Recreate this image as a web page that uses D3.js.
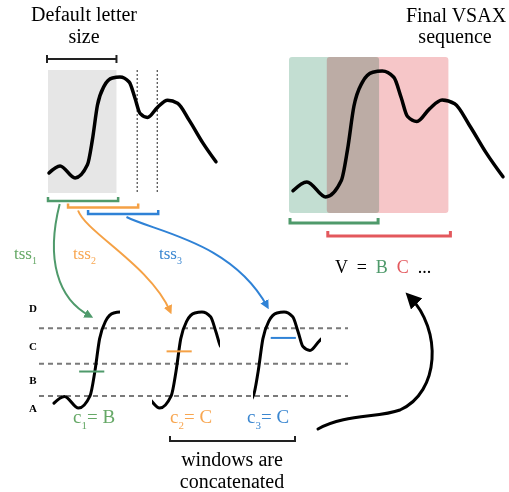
<!DOCTYPE html>
<html>
<head>
<meta charset="utf-8">
<script src="https://cdn.jsdelivr.net/npm/d3@7"></script>
<style>
  body { margin: 0; background: #fff; }
  text { font-family: "Liberation Serif", "DejaVu Serif", serif; }
</style>
</head>
<body>
<div id="fig"></div>
<script>
// time series (t = position, v = level)
var seriesT = [0, 6.6, 15.6, 23, 26, 29, 33, 38, 42.5, 48, 51.5, 54.5, 59, 65, 71, 77, 84, 92, 100];
var seriesV = [5, 12, 0, 13, 38, 72, 91, 99, 100, 95, 79, 64, 60, 70, 77, 74, 57, 35, 16];

// sliding windows
var windowStarts = [0, 12, 24];
var windowSize = 42;
var windowMeans = [38, 59, 73];
var windowLetters = ["B", "C", "C"];
var windowColors = ["#4f9a6b", "#f5a145", "#2f82d6"];
var textColors = ["#65a866", "#f8a650", "#3a86d0"];

// breakpoints between letters
var breakpoints = [12.5, 46, 83];
var levelLetters = ["A", "B", "C", "D"];

// final VSAX segments
var vsaxStarts = [0, 18];
var vsaxEnds = [41, 74];
var vsaxLetters = ["B", "C"];
var vsaxFill = ["#c3ded2", "#f6c6c8"];
var vsaxLine = ["#4f9a6b", "#e3585d"];

var W = 509, H = 492;
var svg = d3.select("#fig").append("svg")
    .attr("width", W)
    .attr("height", H);

var defs = svg.append("defs");
function marker(id, color, size) {
  defs.append("marker")
    .attr("id", id)
    .attr("viewBox", "0 0 10 10")
    .attr("refX", 6).attr("refY", 5)
    .attr("markerWidth", size).attr("markerHeight", size)
    .attr("markerUnits", "userSpaceOnUse")
    .attr("orient", "auto")
    .append("path")
    .attr("d", "M0,0 L10,5 L0,10 Z")
    .attr("fill", color);
}
windowColors.forEach(function(c, i) { marker("arr" + i, c, 9); });
marker("arrBlack", "#000", 16);

var pts = seriesT.map(function(t, i) { return {t: t, v: seriesV[i]}; });
var curve = d3.curveMonotoneX;

// ---------- left top panel ----------
var xL = d3.scaleLinear().domain([0, 100]).range([49, 216]);
var yL = d3.scaleLinear().domain([0, 100]).range([178, 77]);

svg.append("rect")
  .attr("x", xL(0) - 1)
  .attr("y", 70)
  .attr("width", xL(windowSize - 1) - xL(0))
  .attr("height", 123)
  .attr("fill", "#e6e6e6");

// dotted ends of the later windows
windowStarts.slice(1).forEach(function(s) {
  svg.append("line")
    .attr("x1", xL(s + windowSize) - 2).attr("x2", xL(s + windowSize) - 2)
    .attr("y1", 70).attr("y2", 193)
    .attr("stroke", "#222")
    .attr("stroke-width", 1)
    .attr("stroke-dasharray", "2,2");
});

var lineL = d3.line()
  .x(function(d) { return xL(d.t); })
  .y(function(d) { return yL(d.v); })
  .curve(curve);

svg.append("path")
  .attr("d", lineL(pts))
  .attr("fill", "none")
  .attr("stroke", "#000")
  .attr("stroke-width", 3.5)
  .attr("stroke-linecap", "round");

// "default letter size" bracket
var bx1 = xL(0) - 2, bx2 = xL(windowSize - 1) - 1;
svg.append("path")
  .attr("d", "M" + bx1 + ",59H" + bx2 + "M" + bx1 + ",55V63M" + bx2 + ",55V63")
  .attr("fill", "none").attr("stroke", "#222").attr("stroke-width", 2);

svg.append("text").attr("x", 84).attr("y", 21).attr("text-anchor", "middle")
  .attr("font-size", 20).text("Default letter");
svg.append("text").attr("x", 84).attr("y", 43).attr("text-anchor", "middle")
  .attr("font-size", 20).text("size");

// window brackets
function bracket(x1, x2, y, h, color, w) {
  svg.append("path")
    .attr("d", "M" + x1 + "," + (y - h) + "V" + y + "H" + x2 + "V" + (y - h))
    .attr("fill", "none")
    .attr("stroke", color)
    .attr("stroke-width", w);
}
windowStarts.forEach(function(s, i) {
  bracket(xL(s) - 1, xL(s + windowSize) - 1, 201 + i * 6.5, 4, windowColors[i], 2.5);
});

// ---------- lower windows ----------
var yW = d3.scaleLinear().domain([0, 100]).range([408, 312]);
var winX0 = [54, 154, 255];
var winW = 66;

breakpoints.forEach(function(b) {
  svg.append("line")
    .attr("x1", 39).attr("x2", 348)
    .attr("y1", yW(b)).attr("y2", yW(b))
    .attr("stroke", "#7a7a7a")
    .attr("stroke-width", 2)
    .attr("stroke-dasharray", "5,4");
});

var levelPos = [breakpoints[0] - 13]
  .concat(d3.range(breakpoints.length - 1).map(function(i) { return (breakpoints[i] + breakpoints[i + 1]) / 2; }))
  .concat([breakpoints[breakpoints.length - 1] + 21]);
levelLetters.forEach(function(l, i) {
  svg.append("text")
    .attr("x", 33).attr("y", yW(levelPos[i]))
    .attr("dy", "0.35em")
    .attr("text-anchor", "middle")
    .attr("font-size", 11)
    .attr("font-weight", "bold")
    .text(l);
});

var meanOffset = [16, 8, 10];
var labelOffset = [19, 16, -8];
var tipOffset = [36, 16, 12];
var startOffset = [7, 6, 23];

windowStarts.forEach(function(s, i) {
  var xw = d3.scaleLinear().domain([s, s + windowSize]).range([winX0[i], winX0[i] + winW]);
  defs.append("clipPath").attr("id", "clip" + i)
    .append("rect")
    .attr("x", winX0[i] - 2).attr("y", 280)
    .attr("width", winW + 2).attr("height", 150);
  var lw = d3.line()
    .x(function(d) { return xw(d.t); })
    .y(function(d) { return yW(d.v); })
    .curve(curve);
  svg.append("path")
    .attr("d", lw(pts))
    .attr("clip-path", "url(#clip" + i + ")")
    .attr("fill", "none")
    .attr("stroke", "#000")
    .attr("stroke-width", 3)
    .attr("stroke-linecap", "round");

  // mean level of the window
  svg.append("line")
    .attr("x1", xw(s + meanOffset[i])).attr("x2", xw(s + meanOffset[i] + 16))
    .attr("y1", yW(windowMeans[i])).attr("y2", yW(windowMeans[i]))
    .attr("stroke", windowColors[i])
    .attr("stroke-width", 2);

  // c_i = letter
  var t = svg.append("text")
    .attr("x", winX0[i] + labelOffset[i]).attr("y", 423)
    .attr("font-size", 19)
    .attr("fill", textColors[i]);
  t.append("tspan").text("c");
  t.append("tspan").attr("dy", 6).attr("font-size", 11).text(i + 1);
  t.append("tspan").attr("dy", -6).text("= " + windowLetters[i]);

  // tss_i label and arrow
  var sx = xL(s + startOffset[i]) - 1, sy = 204 + i * 6.5;
  var ex = winX0[i] + tipOffset[i], ey = 316 - i * 5;
  var p = d3.path();
  p.moveTo(sx, sy);
  if (i === 0) p.bezierCurveTo(sx - 14, sy + 55, sx - 2, sy + 95, ex, ey);
  else if (i === 1) p.bezierCurveTo(sx + 8, sy + 22, sx + 72, sy + 55, ex, ey);
  else p.bezierCurveTo(sx + 30, sy + 15, sx + 105, sy + 25, ex, ey);
  svg.append("path")
    .attr("d", p.toString())
    .attr("fill", "none")
    .attr("stroke", windowColors[i])
    .attr("stroke-width", 2)
    .attr("marker-end", "url(#arr" + i + ")");

  var lx = [14, 73, 159][i];
  var tl = svg.append("text")
    .attr("x", lx).attr("y", 259)
    .attr("font-size", 17)
    .attr("fill", textColors[i]);
  tl.append("tspan").text("tss");
  tl.append("tspan").attr("dy", 5).attr("font-size", 10).text(i + 1);
});

// concatenation bracket
svg.append("path")
  .attr("d", "M170,436V441H295V436")
  .attr("fill", "none").attr("stroke", "#222").attr("stroke-width", 2);
svg.append("text").attr("x", 232).attr("y", 466).attr("text-anchor", "middle")
  .attr("font-size", 20).text("windows are");
svg.append("text").attr("x", 232).attr("y", 488).attr("text-anchor", "middle")
  .attr("font-size", 20).text("concatenated");

// big arrow back to the sequence
var pa = d3.path();
pa.moveTo(318, 429);
pa.bezierCurveTo(345, 414, 378, 418, 400, 410);
pa.bezierCurveTo(440, 392, 442, 330, 410, 297);
svg.append("path")
  .attr("d", pa.toString())
  .attr("fill", "none")
  .attr("stroke", "#000")
  .attr("stroke-width", 3)
  .attr("stroke-linecap", "round")
  .attr("marker-end", "url(#arrBlack)");

// ---------- right top panel ----------
var xR = d3.scaleLinear().domain([0, 100]).range([293, 503]);
var yR = d3.scaleLinear().domain([0, 100]).range([197, 71]);

vsaxStarts.forEach(function(s, i) {
  svg.append("rect")
    .attr("x", xR(s) - 4)
    .attr("y", 57)
    .attr("width", xR(vsaxEnds[i]) - xR(s) + 4)
    .attr("height", 156)
    .attr("rx", 3)
    .attr("fill", vsaxFill[i])
    .style("mix-blend-mode", "multiply");
  bracket(xR(s) - 3, xR(vsaxEnds[i]) - 1 + i * 3, 223 + i * 13, 5, vsaxLine[i], 3);
});

var lineR = d3.line()
  .x(function(d) { return xR(d.t); })
  .y(function(d) { return yR(d.v); })
  .curve(curve);
svg.append("path")
  .attr("d", lineR(pts))
  .attr("fill", "none")
  .attr("stroke", "#000")
  .attr("stroke-width", 3.5)
  .attr("stroke-linecap", "round");

svg.append("text").attr("x", 456).attr("y", 22).attr("text-anchor", "middle")
  .attr("font-size", 20).text("Final VSAX");
svg.append("text").attr("x", 455).attr("y", 43).attr("text-anchor", "middle")
  .attr("font-size", 20).text("sequence");

var vt = svg.append("text")
  .attr("x", 335).attr("y", 273)
  .attr("font-size", 18)
  .style("white-space", "pre");
vt.append("tspan").text("V  =  ");
vsaxLetters.forEach(function(l, i) {
  vt.append("tspan").attr("fill", vsaxLine[i]).text(l + "  ");
});
vt.append("tspan").text("...");
</script>
</body>
</html>
